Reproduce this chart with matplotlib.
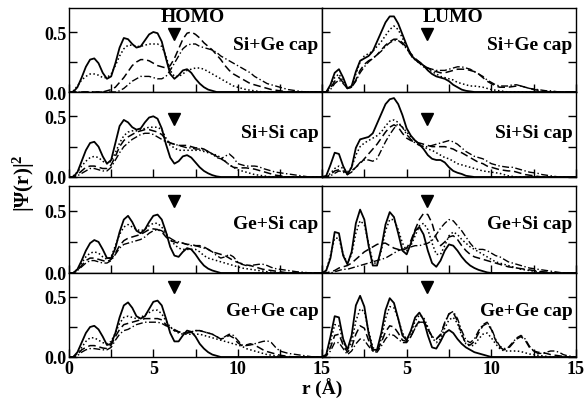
import numpy as np
import matplotlib
matplotlib.use("Agg")
import matplotlib.pyplot as plt

plt.rcParams['font.family'] = ['Liberation Serif', 'DejaVu Serif']
plt.rcParams['font.weight'] = 'bold'
plt.rcParams['mathtext.fontset'] = 'custom'
plt.rcParams['mathtext.rm'] = 'Liberation Serif:bold'
plt.rcParams['mathtext.it'] = 'Liberation Serif:bold'
plt.rcParams['mathtext.bf'] = 'Liberation Serif:bold'

# radial grid (Angstrom), 0.25 step from 0 to 15
r = np.arange(61) * 0.25

caps = ["Si+Ge cap", "Si+Si cap", "Ge+Si cap", "Ge+Ge cap"]
columns = ["HOMO", "LUMO"]
marker_r = 6.2
marker_v = [0.48, 0.48, 0.58, 0.58]

# ---------------- HOMO ----------------
homo_sige_solid = [0,0,0.04,0.12, 0.21,0.27,0.28,0.24, 0.16,0.11,0.13,0.24, 0.37,0.45,0.44,0.40, 0.37,0.38,0.43,0.48, 0.50,0.49,0.42,0.28, 0.15,0.11,0.14,0.18, 0.19,0.16,0.11,0.07, 0.04,0.02,0.01,0, 0,0,0,0, 0,0,0,0, 0,0,0,0, 0,0,0,0, 0,0,0,0, 0,0,0,0, 0]
homo_sige_dot = [0,0.01,0.05,0.10, 0.13,0.15,0.15,0.14, 0.12,0.12,0.15,0.22, 0.30,0.36,0.39,0.39, 0.38,0.38,0.39,0.40, 0.40,0.40,0.38,0.30, 0.18,0.13,0.13,0.15, 0.18,0.19,0.20,0.20, 0.19,0.17,0.15,0.13, 0.11,0.09,0.07,0.05, 0.04,0.03,0.02,0.015, 0.01,0.005,0,0, 0,0,0,0, 0,0,0,0, 0,0,0,0, 0]
homo_sige_dash = [0,0,0,0, 0,0,0,0, 0,0.01,0.02,0.04, 0.08,0.12,0.17,0.22, 0.25,0.27,0.27,0.26, 0.24,0.22,0.21,0.20, 0.22,0.28,0.36,0.44, 0.49,0.50,0.48,0.45, 0.41,0.38,0.35,0.31, 0.27,0.22,0.18,0.15, 0.13,0.11,0.09,0.07, 0.06,0.05,0.04,0.03, 0.02,0.015,0.01,0.005, 0,0,0,0, 0,0,0,0, 0]
homo_sige_dd = [0,0,0,0, 0,0,0,0, 0,0,0,0, 0.01,0.03,0.06,0.09, 0.11,0.13,0.13,0.13, 0.12,0.11,0.11,0.13, 0.18,0.24,0.30,0.36, 0.39,0.40,0.40,0.38, 0.37,0.36,0.35,0.33, 0.30,0.28,0.26,0.24, 0.22,0.20,0.18,0.16, 0.13,0.11,0.09,0.07, 0.06,0.05,0.04,0.03, 0.02,0.015,0.01,0.005, 0,0,0,0, 0]

homo_sisi_solid = [0,0,0.04,0.13, 0.22,0.28,0.29,0.25, 0.17,0.11,0.14,0.28, 0.42,0.47,0.45,0.41, 0.39,0.40,0.45,0.49, 0.50,0.48,0.40,0.27, 0.16,0.11,0.13,0.17, 0.18,0.16,0.12,0.08, 0.05,0.03,0.015,0.005, 0,0,0,0, 0,0,0,0, 0,0,0,0, 0,0,0,0, 0,0,0,0, 0,0,0,0, 0]
homo_sisi_dot = [0,0.01,0.04,0.09, 0.13,0.16,0.17,0.16, 0.13,0.11,0.13,0.20, 0.28,0.34,0.37,0.38, 0.38,0.39,0.40,0.41, 0.41,0.41,0.39,0.32, 0.26,0.24,0.22,0.22, 0.22,0.22,0.22,0.22, 0.21,0.20,0.19,0.18, 0.16,0.13,0.10,0.08, 0.06,0.05,0.04,0.03, 0.02,0.015,0.01,0.005, 0,0,0,0, 0,0,0,0, 0,0,0,0, 0]
homo_sisi_dash = [0,0,0.02,0.05, 0.08,0.09,0.09,0.08, 0.07,0.07,0.10,0.17, 0.25,0.30,0.33,0.35, 0.37,0.38,0.39,0.39, 0.38,0.37,0.35,0.31, 0.28,0.27,0.26,0.26, 0.26,0.25,0.24,0.24, 0.23,0.21,0.19,0.17, 0.15,0.13,0.10,0.08, 0.075,0.075,0.075,0.07, 0.065,0.055,0.045,0.035, 0.025,0.015,0.01,0.005, 0,0,0,0, 0,0,0,0, 0]
homo_sisi_dd = [0,0,0.01,0.03, 0.05,0.07,0.07,0.06, 0.05,0.05,0.08,0.14, 0.20,0.25,0.28,0.31, 0.33,0.35,0.36,0.36, 0.35,0.33,0.31,0.29, 0.28,0.27,0.26,0.25, 0.24,0.24,0.23,0.23, 0.22,0.21,0.19,0.16, 0.15,0.17,0.19,0.16, 0.11,0.10,0.09,0.09, 0.09,0.085,0.07,0.06, 0.05,0.04,0.035,0.03, 0.025,0.02,0.015,0.01, 0.005,0,0,0, 0]

homo_gesi_solid = [0,0,0.03,0.10, 0.18,0.24,0.265,0.25, 0.19,0.12,0.12,0.20, 0.33,0.43,0.46,0.41, 0.34,0.32,0.35,0.41, 0.46,0.47,0.43,0.33, 0.21,0.14,0.13,0.17, 0.20,0.19,0.15,0.10, 0.06,0.035,0.02,0.01, 0,0,0,0, 0,0,0,0, 0,0,0,0, 0,0,0,0, 0,0,0,0, 0,0,0,0, 0]
homo_gesi_dot = [0,0,0.03,0.08, 0.13,0.16,0.17,0.16, 0.13,0.11,0.13,0.22, 0.31,0.37,0.39,0.37, 0.35,0.34,0.35,0.38, 0.40,0.40,0.37,0.32, 0.27,0.23,0.20,0.19, 0.19,0.19,0.19,0.17, 0.14,0.12,0.11,0.10, 0.09,0.08,0.07,0.06, 0.05,0.04,0.035,0.03, 0.025,0.02,0.015,0.01, 0.005,0,0,0, 0,0,0,0, 0,0,0,0, 0]
homo_gesi_dash = [0,0,0.02,0.06, 0.10,0.12,0.12,0.11, 0.10,0.09,0.11,0.16, 0.22,0.26,0.28,0.29, 0.30,0.31,0.33,0.35, 0.355,0.35,0.33,0.29, 0.26,0.25,0.24,0.24, 0.23,0.23,0.22,0.22, 0.21,0.19,0.17,0.16, 0.15,0.14,0.12,0.10, 0.085,0.075,0.065,0.06, 0.05,0.04,0.03,0.025, 0.02,0.015,0.01,0.005, 0,0,0,0, 0,0,0,0, 0]
homo_gesi_dd = [0,0,0.02,0.05, 0.08,0.10,0.10,0.09, 0.08,0.08,0.10,0.15, 0.20,0.23,0.24,0.25, 0.26,0.27,0.29,0.32, 0.34,0.35,0.34,0.31, 0.28,0.26,0.25,0.24, 0.23,0.22,0.22,0.21, 0.20,0.19,0.17,0.14, 0.12,0.13,0.15,0.13, 0.09,0.07,0.06,0.06, 0.065,0.07,0.07,0.06, 0.045,0.035,0.03,0.025, 0.02,0.015,0.01,0.008, 0.005,0,0,0, 0]

homo_gege_solid = [0,0,0.04,0.12, 0.20,0.25,0.26,0.23, 0.17,0.10,0.11,0.20, 0.33,0.43,0.455,0.41, 0.34,0.32,0.34,0.40, 0.46,0.47,0.43,0.32, 0.20,0.13,0.13,0.18, 0.22,0.21,0.17,0.11, 0.07,0.04,0.02,0.01, 0,0,0,0, 0,0,0,0, 0,0,0,0, 0,0,0,0, 0,0,0,0, 0,0,0,0, 0]
homo_gege_dot = [0,0,0.03,0.08, 0.13,0.16,0.16,0.14, 0.12,0.11,0.13,0.20, 0.28,0.33,0.34,0.33, 0.32,0.33,0.35,0.37, 0.39,0.39,0.36,0.30, 0.25,0.22,0.20,0.19, 0.19,0.19,0.19,0.19, 0.18,0.17,0.16,0.15, 0.14,0.13,0.12,0.11, 0.10,0.09,0.07,0.06, 0.05,0.04,0.03,0.02, 0.015,0.01,0.005,0, 0,0,0,0, 0,0,0,0, 0]
homo_gege_dash = [0,0,0.02,0.06, 0.08,0.095,0.095,0.085, 0.075,0.07,0.10,0.17, 0.23,0.27,0.28,0.29, 0.30,0.31,0.32,0.32, 0.32,0.32,0.31,0.27, 0.24,0.22,0.21,0.20, 0.20,0.21,0.22,0.22, 0.21,0.20,0.19,0.17, 0.15,0.16,0.18,0.16, 0.12,0.095,0.10,0.11, 0.10,0.08,0.06,0.045, 0.035,0.025,0.015,0.01, 0.005,0,0,0, 0,0,0,0, 0]
homo_gege_dd = [0,0,0.01,0.04, 0.06,0.07,0.07,0.065, 0.06,0.06,0.08,0.14, 0.19,0.22,0.23,0.25, 0.27,0.28,0.29,0.29, 0.29,0.29,0.28,0.26, 0.25,0.23,0.21,0.20, 0.20,0.21,0.22,0.22, 0.21,0.20,0.19,0.17, 0.15,0.17,0.19,0.18, 0.14,0.10,0.095,0.10, 0.11,0.12,0.13,0.135, 0.12,0.08,0.05,0.04, 0.03,0.025,0.02,0.015, 0.01,0.005,0,0, 0]

# ---------------- LUMO ----------------
lumo_sige_solid = [0,0,0.06,0.16, 0.19,0.12,0.03,0.05, 0.17,0.26,0.28,0.30, 0.34,0.42,0.50,0.58, 0.63,0.63,0.57,0.48, 0.39,0.31,0.27,0.25, 0.22,0.18,0.15,0.13, 0.12,0.11,0.09,0.06, 0.04,0.02,0.01,0.005, 0,0,0,0, 0,0,0,0, 0,0,0,0, 0,0,0,0, 0,0,0,0, 0,0,0,0, 0]
lumo_sige_dot = [0,0,0.05,0.12, 0.15,0.09,0.03,0.05, 0.15,0.25,0.30,0.32, 0.34,0.38,0.42,0.47, 0.52,0.55,0.52,0.45, 0.37,0.30,0.27,0.24, 0.21,0.19,0.17,0.15, 0.13,0.12,0.11,0.10, 0.08,0.07,0.06,0.05, 0.05,0.045,0.04,0.03, 0.02,0.015,0.01,0.005, 0,0,0,0, 0,0,0,0, 0,0,0,0, 0,0,0,0, 0]
lumo_sige_dash = [0,0,0.03,0.09, 0.12,0.08,0.03,0.04, 0.10,0.18,0.23,0.26, 0.28,0.31,0.35,0.39, 0.42,0.44,0.44,0.41, 0.37,0.32,0.28,0.25, 0.22,0.20,0.18,0.17, 0.16,0.16,0.17,0.18, 0.19,0.19,0.19,0.18, 0.17,0.15,0.12,0.09, 0.07,0.05,0.04,0.04, 0.04,0.045,0.05,0.05, 0.04,0.03,0.02,0.015, 0.01,0.005,0,0, 0,0,0,0, 0]
lumo_sige_dd = [0,0,0.02,0.07, 0.10,0.07,0.03,0.04, 0.09,0.16,0.21,0.25, 0.28,0.31,0.34,0.38, 0.41,0.43,0.43,0.40, 0.36,0.31,0.27,0.24, 0.22,0.20,0.19,0.18, 0.18,0.18,0.19,0.20, 0.21,0.21,0.20,0.19, 0.17,0.15,0.13,0.10, 0.08,0.06,0.05,0.05, 0.05,0.06,0.06,0.05, 0.04,0.03,0.025,0.02, 0.015,0.01,0.01,0.005, 0,0,0,0, 0]

lumo_sisi_solid = [0,0.01,0.10,0.20, 0.19,0.09,0.02,0.08, 0.24,0.31,0.32,0.33, 0.36,0.44,0.52,0.60, 0.64,0.65,0.60,0.51, 0.40,0.34,0.30,0.27, 0.23,0.18,0.15,0.14, 0.14,0.12,0.08,0.05, 0.035,0.025,0.01,0.005, 0,0,0,0, 0,0,0,0, 0,0,0,0, 0,0,0,0, 0,0,0,0, 0,0,0,0, 0]
lumo_sisi_dot = [0,0,0.03,0.07, 0.09,0.07,0.04,0.08, 0.18,0.25,0.28,0.30, 0.32,0.34,0.37,0.42, 0.46,0.47,0.45,0.41, 0.37,0.33,0.30,0.27, 0.25,0.23,0.22,0.20, 0.18,0.16,0.15,0.13, 0.11,0.10,0.09,0.08, 0.07,0.06,0.05,0.045, 0.04,0.035,0.03,0.02, 0.01,0.005,0,0, 0,0,0,0, 0,0,0,0, 0,0,0,0, 0]
lumo_sisi_dash = [0,0,0.02,0.05, 0.06,0.05,0.03,0.05, 0.08,0.11,0.15,0.19, 0.23,0.27,0.32,0.37, 0.41,0.43,0.41,0.36, 0.32,0.30,0.29,0.28, 0.27,0.26,0.25,0.25, 0.25,0.25,0.24,0.23, 0.21,0.20,0.18,0.16, 0.14,0.12,0.11,0.09, 0.08,0.07,0.06,0.055, 0.05,0.05,0.04,0.03, 0.02,0.015,0.01,0.005, 0,0,0,0, 0,0,0,0, 0]
lumo_sisi_dd = [0,0,0.01,0.03, 0.05,0.04,0.02,0.04, 0.08,0.12,0.14,0.14, 0.13,0.15,0.22,0.29, 0.35,0.40,0.44,0.41, 0.35,0.31,0.28,0.26, 0.25,0.25,0.26,0.27, 0.28,0.29,0.30,0.29, 0.27,0.24,0.21,0.19, 0.17,0.16,0.15,0.13, 0.11,0.10,0.09,0.085, 0.08,0.08,0.07,0.06, 0.05,0.04,0.035,0.03, 0.02,0.015,0.01,0.005, 0,0,0,0, 0]

lumo_gesi_solid = [0,0.02,0.12,0.33, 0.32,0.14,0.07,0.17, 0.40,0.51,0.43,0.22, 0.06,0.06,0.20,0.39, 0.49,0.45,0.32,0.18, 0.15,0.24,0.34,0.37, 0.31,0.18,0.08,0.05, 0.10,0.18,0.23,0.22, 0.18,0.13,0.09,0.06, 0.04,0.025,0.015,0.005, 0,0,0,0, 0,0,0,0, 0,0,0,0, 0,0,0,0, 0,0,0,0, 0]
lumo_gesi_dot = [0,0.02,0.14,0.28, 0.28,0.15,0.08,0.15, 0.32,0.42,0.39,0.24, 0.09,0.07,0.18,0.34, 0.43,0.43,0.35,0.24, 0.18,0.22,0.30,0.38, 0.40,0.35,0.24,0.15, 0.15,0.22,0.30,0.33, 0.31,0.27,0.24,0.21, 0.19,0.17,0.15,0.13, 0.11,0.09,0.08,0.07, 0.06,0.05,0.04,0.03, 0.025,0.02,0.015,0.01, 0.005,0,0,0, 0,0,0,0, 0]
lumo_gesi_dash = [0,0,0.01,0.02, 0.04,0.05,0.06,0.08, 0.11,0.14,0.17,0.19, 0.21,0.23,0.24,0.24, 0.22,0.20,0.19,0.18, 0.20,0.26,0.35,0.43, 0.48,0.47,0.40,0.28, 0.22,0.25,0.29,0.30, 0.27,0.22,0.18,0.15, 0.13,0.12,0.11,0.10, 0.09,0.08,0.07,0.06, 0.05,0.045,0.04,0.035, 0.03,0.025,0.02,0.015, 0.01,0.008,0.005,0, 0,0,0,0, 0]
lumo_gesi_dd = [0,0,0,0.01, 0.02,0.03,0.03,0.04, 0.05,0.06,0.07,0.08, 0.09,0.10,0.11,0.12, 0.14,0.16,0.18,0.19, 0.20,0.21,0.22,0.22, 0.23,0.24,0.26,0.31, 0.36,0.40,0.43,0.42, 0.38,0.34,0.29,0.24, 0.20,0.19,0.19,0.18, 0.16,0.14,0.13,0.11, 0.09,0.08,0.07,0.06, 0.05,0.04,0.035,0.03, 0.025,0.02,0.015,0.01, 0.005,0,0,0, 0]

lumo_gege_solid = [0,0.02,0.17,0.34, 0.33,0.15,0.06,0.18, 0.43,0.51,0.42,0.20, 0.06,0.06,0.20,0.39, 0.49,0.45,0.32,0.18, 0.14,0.22,0.33,0.37, 0.31,0.18,0.08,0.07, 0.13,0.20,0.225,0.20, 0.15,0.11,0.08,0.06, 0.04,0.03,0.02,0.01, 0,0,0,0, 0,0,0,0, 0,0,0,0, 0,0,0,0, 0,0,0,0, 0]
lumo_gege_dot = [0,0.02,0.13,0.27, 0.26,0.13,0.06,0.12, 0.30,0.40,0.38,0.22, 0.08,0.05,0.15,0.32, 0.42,0.41,0.32,0.20, 0.15,0.20,0.30,0.35, 0.33,0.25,0.16,0.12, 0.15,0.24,0.31,0.33, 0.28,0.18,0.11,0.09, 0.10,0.15,0.19,0.20, 0.16,0.11,0.07,0.05, 0.05,0.05,0.05,0.045, 0.035,0.025,0.02,0.015, 0.01,0.005,0,0, 0,0,0,0, 0]
lumo_gege_dash = [0,0.01,0.08,0.18, 0.19,0.10,0.04,0.08, 0.19,0.26,0.24,0.14, 0.05,0.05,0.12,0.21, 0.26,0.25,0.20,0.14, 0.13,0.17,0.25,0.30, 0.30,0.24,0.17,0.15, 0.18,0.28,0.36,0.37, 0.30,0.19,0.11,0.10, 0.13,0.20,0.26,0.28, 0.23,0.14,0.08,0.06, 0.07,0.11,0.15,0.17, 0.14,0.08,0.05,0.04, 0.035,0.03,0.02,0.015, 0.01,0.005,0,0, 0]
lumo_gege_dd = [0,0.01,0.05,0.12, 0.12,0.07,0.02,0.05, 0.11,0.15,0.14,0.09, 0.05,0.04,0.09,0.15, 0.19,0.18,0.15,0.12, 0.12,0.17,0.24,0.29, 0.29,0.23,0.17,0.15, 0.19,0.29,0.36,0.38, 0.32,0.22,0.14,0.12, 0.15,0.22,0.27,0.29, 0.24,0.15,0.09,0.07, 0.08,0.12,0.16,0.18, 0.15,0.09,0.05,0.03, 0.03,0.04,0.05,0.05, 0.04,0.02,0.01,0.005, 0]

homo = [
    [homo_sige_solid, homo_sige_dot, homo_sige_dash, homo_sige_dd],
    [homo_sisi_solid, homo_sisi_dot, homo_sisi_dash, homo_sisi_dd],
    [homo_gesi_solid, homo_gesi_dot, homo_gesi_dash, homo_gesi_dd],
    [homo_gege_solid, homo_gege_dot, homo_gege_dash, homo_gege_dd],
]
lumo = [
    [lumo_sige_solid, lumo_sige_dot, lumo_sige_dash, lumo_sige_dd],
    [lumo_sisi_solid, lumo_sisi_dot, lumo_sisi_dash, lumo_sisi_dd],
    [lumo_gesi_solid, lumo_gesi_dot, lumo_gesi_dash, lumo_gesi_dd],
    [lumo_gege_solid, lumo_gege_dot, lumo_gege_dash, lumo_gege_dd],
]

styles = [
    dict(linestyle='-', lw=1.3),
    dict(linestyle=(0, (1, 1.6)), lw=1.1),
    dict(linestyle=(0, (5, 2.5)), lw=1.1),
    dict(linestyle=(0, (5, 1.8, 1, 1.8)), lw=1.0),
]

W, H = 586, 406
fig = plt.figure(figsize=(W / 100, H / 100), dpi=100)

col_px = [(69, 322), (322, 576)]
row_px = [(9, 93), (93, 178), (187, 274), (274, 358)]
cap_v = [0.40, 0.37, 0.40, 0.39]

for ci, (data, title) in enumerate([(homo, "HOMO"), (lumo, "LUMO")]):
    x0, x1 = col_px[ci]
    for ri in range(4):
        y0, y1 = row_px[ri]
        ax = fig.add_axes([x0 / W, 1 - y1 / H, (x1 - x0) / W, (y1 - y0) / H])
        for series, st in zip(data[ri], styles):
            ax.plot(r, series, color='black', **st)
        ax.plot([marker_r], [marker_v[ri]], marker='v', color='black',
                markersize=8, linestyle='none')
        ax.set_xlim(0, 15)
        ax.set_ylim(0, 0.70)
        ax.set_xticks([0, 5, 10, 15])
        ax.set_xticks([2.5, 7.5, 12.5], minor=True)
        ax.set_yticks([0, 0.5])
        ax.set_yticks([0.25], minor=True)
        ax.tick_params(which='both', direction='in', length=6, width=1,
                       labelsize=13, pad=2,
                       top=False, right=(ci == 1), left=True)
        if ri == 3:
            if ci == 0:
                ax.set_xticklabels(['0', '5', '10', '15'])
            else:
                ax.set_xticklabels(['', '5', '10', '15'])
        else:
            ax.set_xticklabels([])
        if ci == 0:
            ax.set_yticklabels(['0.0', '0.5'])
        else:
            ax.set_yticklabels([])
        for lab in ax.get_xticklabels() + ax.get_yticklabels():
            lab.set_fontweight('bold')
        for s in ax.spines.values():
            s.set_linewidth(1.0)
        ax.text(14.8, cap_v[ri], caps[ri], ha='right', va='center',
                fontsize=14, fontweight='bold')
        if ri == 0:
            ax.text(7.35 if ci == 0 else 7.75, 0.625, title, ha='center',
                    va='center', fontsize=14, fontweight='bold')

fig.text(322 / W, 1 - 389 / H, 'r (Å)', ha='center', va='center',
         fontsize=14, fontweight='bold')
fig.text(24 / W, 1 - 183 / H, r'$|\Psi(\mathbf{r})|^2$', ha='center',
         va='center', rotation=90, fontsize=15)

fig.savefig('out.png', dpi=100)
